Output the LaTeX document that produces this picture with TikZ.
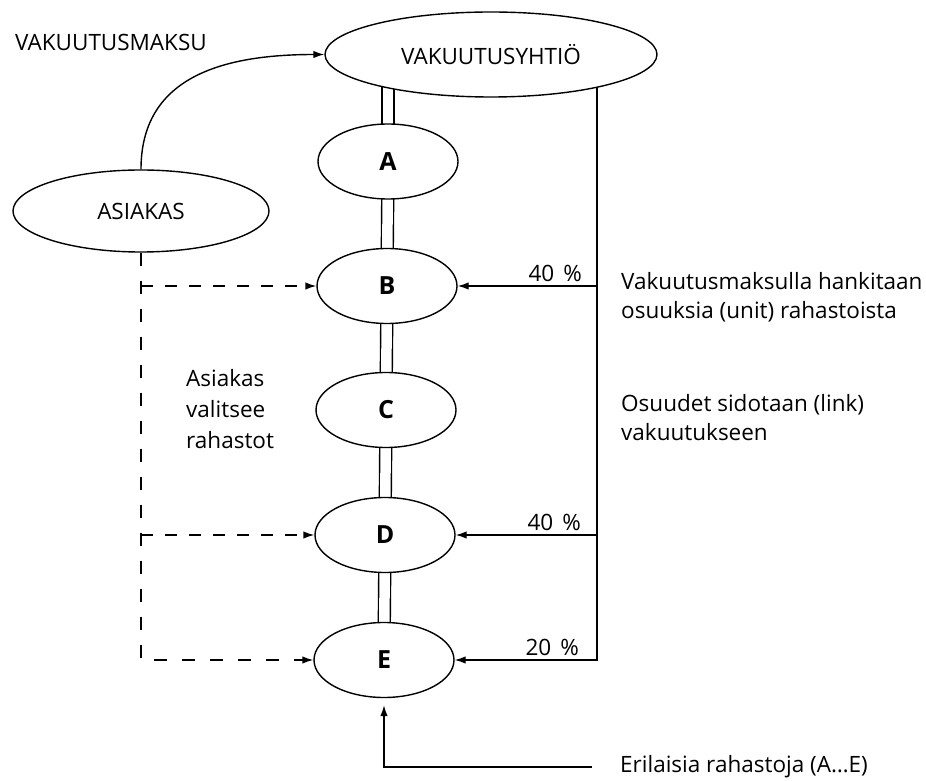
\documentclass[tikz,border=0pt]{standalone}
\usepackage{fontspec}
\setmainfont{Open Sans}
\usetikzlibrary{shapes.geometric,arrows.meta,backgrounds,calc}
\begin{document}
\begin{tikzpicture}[x=1pt,y=1pt,
  every node/.style={font=\fontsize{22.5}{29}\selectfont},
  ell/.style={ellipse, draw, line width=1.4pt, fill=white, inner sep=0pt},
  fund/.style={ell, minimum width=140pt, minimum height=75pt, font=\fontsize{25}{29}\selectfont\bfseries},
  ln/.style={line width=1.4pt},
  arr/.style={ln, -{Latex[length=11pt,width=7.5pt]}},
  dshh/.style={arr, dash pattern=on 12pt off 12pt},
  dshv/.style={arr, dash pattern=on 13pt off 15pt},
  dbl/.style={line width=1.4pt, double, double distance=10.5pt},
  pct/.style={anchor=south east, inner sep=0pt},
  txt/.style={anchor=west, inner sep=0pt, align=left}
]
\useasboundingbox (0,0) rectangle (926,780);

% ellipses
\node[ell, minimum width=332pt, minimum height=85pt] (VY) at (491,725.5) {\raisebox{-3pt}{VAKUUTUSYHTIÖ}};
\node[ell, minimum width=256pt, minimum height=82pt] (AS) at (141,569) {ASIAKAS};
\node[fund] (A) at (388,618.5) {\raisebox{-7pt}{A}};
\node[fund] (B) at (387,494) {\raisebox{-6pt}{B}};
\node[fund] (C) at (386,370) {\raisebox{-6pt}{C}};
\node[fund] (D) at (385,245) {\raisebox{-6pt}{D}};
\node[fund] (E) at (384,120) {\raisebox{-5pt}{E}};

% texts
\node[txt] (VM) at (15,738) {VAKUUTUSMAKSU};
\node[txt, font=\fontsize{22.5}{31}\selectfont] (AV) at (186,371) {Asiakas\\valitsee\\rahastot};
\node[txt] (T1) at (621,482.5) {Vakuutusmaksulla hankitaan\\osuuksia (unit) rahastoista};
\node[txt] (T2) at (621,362.5) {Osuudet sidotaan (link)\\vakuutukseen};
\node[txt] (ER) at (620,13) {Erilaisia rahastoja (A…E)};

\coordinate (R) at (597,0);

% connectors behind the ellipses
\begin{pgfonlayer}{background}
\fill[white] (0,0) rectangle (926,780);
\draw[dbl] (A.center) -- (A.center |- VY.center);
\draw[dbl] (A.center) -- (B.center);
\draw[dbl] (B.center) -- (C.center);
\draw[dbl] (C.center) -- (D.center);
\draw[dbl] (D.center) -- (E.center);
\draw[arr] (VY.center -| R) -- (E.center -| R) -- (E.east);
\end{pgfonlayer}

\draw[arr] (B.center -| R) -- (B.east);
\draw[arr] (D.center -| R) -- (D.east);

\node[pct] (P1) at ($(B.center -| R)+(-15,4)$) {40\hspace{9pt}\%};
\node[pct] (P2) at ($(D.center -| R)+(-16,4)$) {40\hspace{9pt}\%};
\node[pct] (P3) at ($(E.center -| R)+(-18,4)$) {20\hspace{9pt}\%};

% premium curve
\draw[arr] (AS.north) .. controls +(0,90) and +(-106,0) .. (VY.west);

% customer choice (dashed)
\draw[dshv] (AS.south) -- (AS.south |- E.center) -- (E.west);
\draw[dshh] (AS.south |- B.center) -- (B.west);
\draw[dshh] (AS.south |- D.center) -- (D.west);

% different funds
\draw[arr, shorten >=7pt] ($(ER.west)+(-28,0)$) -| (E.south);
\end{tikzpicture}
\end{document}
